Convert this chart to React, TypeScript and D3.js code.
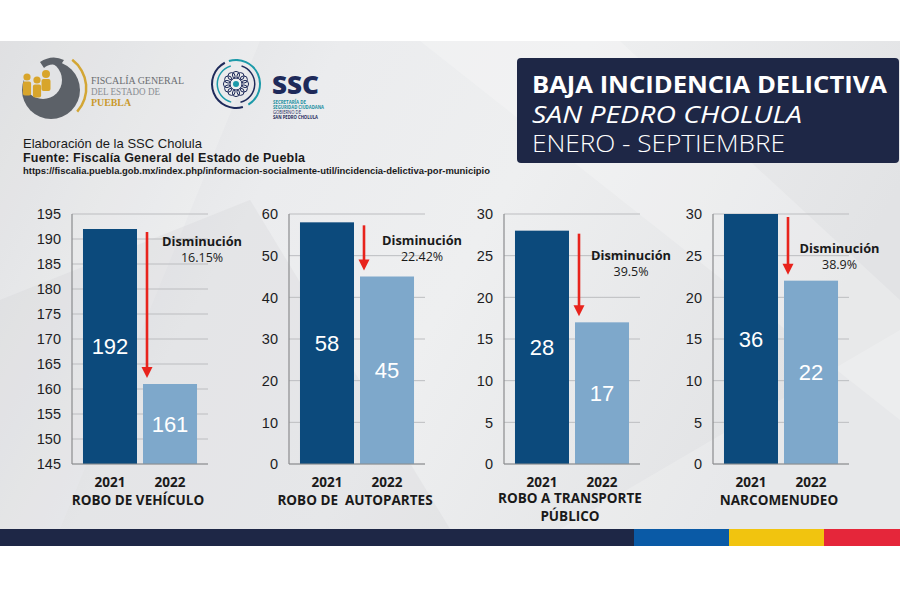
import React from "react";
import * as d3 from "d3";

// ---------- DATA ----------
const categories = ["ROBO DE VEHÍCULO", "ROBO DE  AUTOPARTES", "ROBO A TRANSPORTE\nPÚBLICO", "NARCOMENUDEO"];
const years = ["2021", "2022"];
const values2021 = [192, 58, 28, 36];
const values2022 = [161, 45, 17, 22];
const decreaseLabels = ["16.15%", "22.42%", "39.5%", "38.9%"];
const axisMin = [145, 0, 0, 0];
const axisMax = [195, 60, 30, 30];
const axisStep = [5, 10, 5, 5];

// ---------- LAYOUT (not data) ----------
const panelX = [72, 289, 504, 713];
const panelW = 136;
const plotTop = 214;
const plotBottom = 464;
const noteOffsets = [27, 26, 41, 34];
const noteShift = [5, 8, 2, 1.5];

const DARK = "#0c4a7c";
const LIGHT = "#7ea8cb";
const NAVY = "#1e2746";
const RED = "#e8231c";

function Panel({ i }: { i: number }) {
  const x0 = panelX[i];
  const xs = d3.scaleBand<string>().domain(years).range([x0, x0 + panelW]).paddingInner(0.1).paddingOuter(0.183);
  const y = d3.scaleLinear().domain([axisMin[i], axisMax[i]]).range([plotBottom, plotTop]);
  const ticks = d3.range(axisMin[i], axisMax[i] + 0.001, axisStep[i]);
  const vals = [values2021[i], values2022[i]];
  const bw = xs.bandwidth();
  const b2x = xs(years[1])!;
  const arrowX = b2x + 4;
  const arrowStart = y(Math.min(vals[0], axisMax[i])) + 3;
  const arrowTip = y(vals[1]) - 6;
  const noteCx = b2x + bw + noteShift[i];
  const noteY = plotTop + noteOffsets[i];
  const catLines = categories[i].split("\n");
  return (
    <g>
      {ticks.map((t) => (
        <g key={t}>
          <line x1={x0} x2={x0 + panelW} y1={y(t)} y2={y(t)} stroke="#bcbdc0" strokeWidth={1} />
          <text x={x0 - 11} y={y(t)} dy="0.36em" textAnchor="end" fontFamily="Liberation Sans, Arial, sans-serif" fontSize={14.5} fill="#1d1d1f">
            {t}
          </text>
        </g>
      ))}
      {vals.map((v, k) => {
        const top = y(Math.min(v, axisMax[i]));
        return (
          <g key={k}>
            <rect x={xs(years[k])} y={top} width={bw} height={plotBottom - top} fill={k === 0 ? DARK : LIGHT} />
            <text x={xs(years[k])! + bw / 2} y={(top + plotBottom) / 2} dy="0.36em" textAnchor="middle" fontFamily="Liberation Sans, Arial, sans-serif" fontSize={22} fill="#ffffff">
              {v}
            </text>
            <text x={xs(years[k])! + bw / 2} y={482} dy="0.36em" textAnchor="middle" fontFamily="Open Sans, sans-serif" fontWeight={700} fontSize={13.5} fill="#1a1a1a">
              {years[k]}
            </text>
          </g>
        );
      })}
      <line x1={x0} x2={x0} y1={plotTop} y2={plotBottom} stroke="#8a8b8e" strokeWidth={1.2} />
      <line x1={x0} x2={x0 + panelW} y1={plotBottom} y2={plotBottom} stroke="#8a8b8e" strokeWidth={1.2} />
      <line x1={arrowX} x2={arrowX} y1={arrowStart} y2={arrowTip - 10} stroke={RED} strokeWidth={2.6} />
      <path d={`M${arrowX - 5.5},${arrowTip - 11} L${arrowX + 5.5},${arrowTip - 11} L${arrowX},${arrowTip} Z`} fill={RED} />
      <text x={noteCx} y={noteY} dy="0.36em" textAnchor="middle" fontFamily="Open Sans, sans-serif" fontWeight={700} fontSize={12.5} fill="#1a1a1a" textLength={80} lengthAdjust="spacingAndGlyphs">
        Disminución
      </text>
      <text x={noteCx} y={noteY + 16} dy="0.36em" textAnchor="middle" fontFamily="Open Sans, sans-serif" fontSize={12.5} fill="#1a1a1a">
        {decreaseLabels[i]}
      </text>
      {catLines.map((ln, k) => (
        <text key={k} x={x0 + 66} y={catLines.length > 1 ? 498 + k * 18 : 500} dy="0.36em" textAnchor="middle" fontFamily="Open Sans, sans-serif" fontWeight={700} fontSize={13.5} fill="#1a1a1a" style={{ whiteSpace: "pre" }}>
          {ln}
        </text>
      ))}
    </g>
  );
}

function FiscaliaLogo() {
  const arc = d3.arc()({ innerRadius: 34, outerRadius: 36.5, startAngle: (37 * Math.PI) / 180, endAngle: (132 * Math.PI) / 180 }) as string;
  return (
    <g>
      <circle cx={51} cy={90} r={29} fill="#5c6168" />
      <circle cx={43} cy={80} r={19} fill="#e2e3e5" />
      <path d="M40,62 Q52,54 64,60 L60,66 Q50,62 44,68 Z" fill="#5c6168" />
      <path d={arc} transform="translate(51,88)" fill="#d3a634" />
      {[[27, 77, 3.6], [37, 80, 3.6], [46, 74, 4]].map(([cx, cy, r], k) => (
        <g key={k} fill="#d8a52b">
          <circle cx={cx} cy={cy} r={r} />
          <rect x={cx - r - 0.5} y={cy + r + 1} width={2 * r + 1} height={14 - k} rx={2} />
        </g>
      ))}
      <text x={91} y={84} fontFamily="Liberation Serif, serif" fontSize={11} fill="#6a6d72" textLength={93} lengthAdjust="spacingAndGlyphs">FISCALÍA GENERAL</text>
      <text x={91} y={95} fontFamily="Liberation Serif, serif" fontSize={10} fill="#8a8d92" textLength={69} lengthAdjust="spacingAndGlyphs">DEL ESTADO DE</text>
      <text x={91} y={106} fontFamily="Liberation Serif, serif" fontWeight={700} fontSize={10.5} fill="#c9992c" textLength={40} lengthAdjust="spacingAndGlyphs">PUEBLA</text>
    </g>
  );
}

function SSCLogo() {
  const cx = 236, cy = 84;
  const outerA = d3.arc()({ innerRadius: 23, outerRadius: 25, startAngle: -0.3, endAngle: 2.6 }) as string;
  const outerB = d3.arc()({ innerRadius: 23, outerRadius: 25, startAngle: 2.85, endAngle: 5.8 }) as string;
  const innerA = d3.arc()({ innerRadius: 18, outerRadius: 19.5, startAngle: 0.3, endAngle: 2.9 }) as string;
  const innerB = d3.arc()({ innerRadius: 18, outerRadius: 19.5, startAngle: 3.4, endAngle: 6.0 }) as string;
  const petals = d3.range(12).map((k) => (k * Math.PI * 2) / 12);
  const small = [
    { t: "SECRETARÍA DE", w: 33, c: "#1a8fa0", b: 700 },
    { t: "SEGURIDAD CIUDADANA", w: 51, c: "#1a8fa0", b: 700 },
    { t: "GOBIERNO DE", w: 28, c: "#1e2a5a", b: 400 },
    { t: "SAN PEDRO CHOLULA", w: 45, c: "#1e2a5a", b: 700 },
  ];
  return (
    <g>
      <path d={outerA} transform={`translate(${cx},${cy})`} fill="#1c9aa9" />
      <path d={outerB} transform={`translate(${cx},${cy})`} fill="#1e2a5a" />
      <path d={innerA} transform={`translate(${cx},${cy})`} fill="#1e2a5a" />
      <path d={innerB} transform={`translate(${cx},${cy})`} fill="#1c9aa9" />
      {petals.map((a, k) => (
        <circle key={k} cx={cx + Math.cos(a) * 9} cy={cy + Math.sin(a) * 9} r={3.6} fill="none" stroke="#1e2a5a" strokeWidth={1} />
      ))}
      <circle cx={cx} cy={cy} r={6} fill="#eef0f1" stroke="#1e2a5a" strokeWidth={1} />
      <circle cx={cx} cy={cy} r={3} fill="#1c9aa9" />
      <text x={272} y={94} fontFamily="Open Sans, sans-serif" fontWeight={800} fontSize={25} fill="#1e2a5a" textLength={47} lengthAdjust="spacingAndGlyphs">SSC</text>
      {small.map((s, k) => (
        <text key={k} x={273} y={103.5 + k * 5.2} fontFamily="Open Sans, sans-serif" fontWeight={s.b} fontSize={4.4} fill={s.c} textLength={s.w} lengthAdjust="spacingAndGlyphs">
          {s.t}
        </text>
      ))}
    </g>
  );
}

export default function App() {
  return (
    <svg width={900} height={600} style={{ position: "absolute", left: 0, top: 0, background: "#ffffff" }}>
      <defs>
        <linearGradient id="bg" x1="0" y1="0" x2="1" y2="0.3">
          <stop offset="0" stopColor="#d9dadc" />
          <stop offset="0.35" stopColor="#ebecee" />
          <stop offset="0.6" stopColor="#eeeff0" />
          <stop offset="1" stopColor="#e2e3e5" />
        </linearGradient>
      </defs>
      <rect x={0} y={41} width={900} height={488} fill="url(#bg)" />
      <polygon points="0,41 260,41 60,529 0,529" fill="#ffffff" opacity={0.18} />
      <polygon points="420,41 620,41 900,300 900,420" fill="#ffffff" opacity={0.22} />
      <polygon points="0,300 250,200 450,529 0,529" fill="#cfd0d3" opacity={0.25} />
      <polygon points="560,529 900,330 900,529" fill="#ffffff" opacity={0.2} />
      <rect x={0} y={529} width={634} height={17} fill="#1e2746" />
      <rect x={634} y={529} width={95} height={17} fill="#0a5aa6" />
      <rect x={729} y={529} width={95} height={17} fill="#f1c40f" />
      <rect x={824} y={529} width={76} height={17} fill="#e5263a" />

      <FiscaliaLogo />
      <SSCLogo />

      <rect x={517} y={58} width={382} height={105} rx={4} fill={NAVY} />
      <text x={532} y={93} fontFamily="Open Sans, sans-serif" fontWeight={700} fontSize={24} fill="#ffffff" textLength={355} lengthAdjust="spacingAndGlyphs">BAJA INCIDENCIA DELICTIVA</text>
      <text x={532} y={123} fontFamily="Open Sans, sans-serif" fontStyle="italic" fontSize={24} fill="#ffffff" textLength={270} lengthAdjust="spacingAndGlyphs">SAN PEDRO CHOLULA</text>
      <text x={532} y={152} fontFamily="Open Sans, sans-serif" fontWeight={300} fontSize={24} fill="#ffffff" textLength={253} lengthAdjust="spacingAndGlyphs">ENERO - SEPTIEMBRE</text>

      <text x={23} y={147.5} fontFamily="Liberation Sans, Arial, sans-serif" fontSize={13} fill="#1a1a1a" textLength={179}>Elaboración de la SSC Cholula</text>
      <text x={23} y={161.5} fontFamily="Liberation Sans, Arial, sans-serif" fontWeight={700} fontSize={12.5} fill="#1a1a1a" textLength={282}>Fuente: Fiscalía General del Estado de Puebla</text>
      <text x={23} y={174} fontFamily="Liberation Sans, Arial, sans-serif" fontWeight={700} fontSize={8.5} fill="#1a1a1a" textLength={467} lengthAdjust="spacingAndGlyphs">https://fiscalia.puebla.gob.mx/index.php/informacion-socialmente-util/incidencia-delictiva-por-municipio</text>

      {categories.map((_, i) => (
        <Panel key={i} i={i} />
      ))}
    </svg>
  );
}
